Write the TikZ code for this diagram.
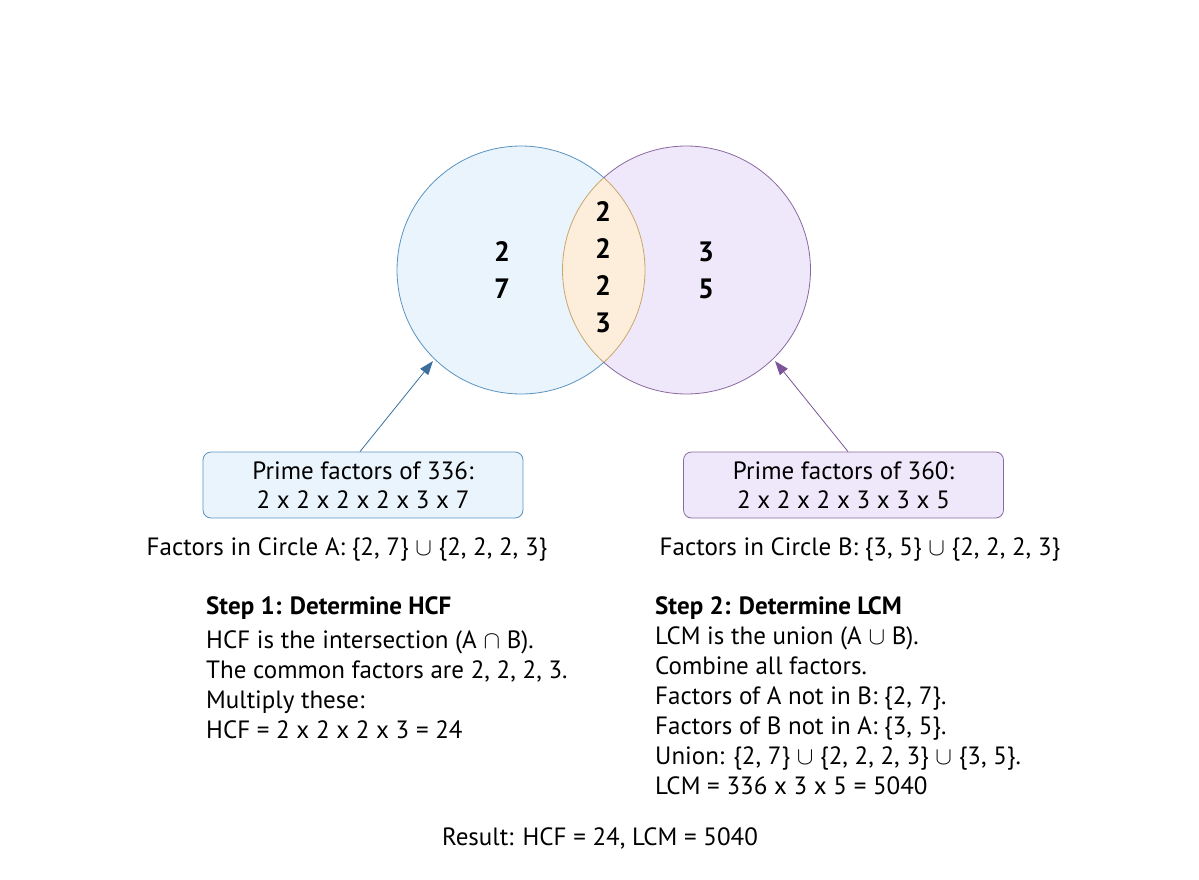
\documentclass[tikz,border=0pt]{standalone}
\usepackage{fontspec}
\setmainfont{PT Sans}
\usetikzlibrary{arrows.meta}
\begin{document}
\begin{tikzpicture}[x=1pt,y=-1pt,
  txt/.style={font=\fontsize{25}{30}\selectfont, inner sep=0pt},
  num/.style={font=\fontsize{28}{30}\selectfont\bfseries, inner sep=0pt},
  box/.style={draw=#1, rounded corners=8pt, line width=0.8pt, minimum width=320pt, minimum height=66pt, align=center, font=\fontsize{25}{29}\selectfont},
  arr/.style={-{Triangle[length=14pt,width=10pt]}, line width=0.8pt}]
\useasboundingbox (0,0) rectangle (1199,880);
\definecolor{ca}{HTML}{5A93C0}\definecolor{cb}{HTML}{8A6A9E}
\definecolor{fa}{HTML}{EAF4FD}\definecolor{fb}{HTML}{EEE8FA}
\definecolor{fl}{HTML}{FDEEDC}\definecolor{cl}{HTML}{C9A66B}
\definecolor{aa}{HTML}{3C6E9E}\definecolor{ab}{HTML}{7A559A}
\fill[fa] (521,270) circle (124);
\fill[fb] (686.5,270) circle (124);
\begin{scope}\clip (521,270) circle (124); \fill[fl] (686.5,270) circle (124);\end{scope}
\begin{scope}\clip (521,270) circle (124); \draw[cl, line width=0.8pt] (686.5,270) circle (124);\end{scope}
\begin{scope}\clip (686.5,270) circle (124); \draw[cl, line width=0.8pt] (521,270) circle (124);\end{scope}
\draw[ca, line width=0.8pt] (521,270) ++(48:124) arc (48:312:124);
\draw[cb, line width=0.8pt] (686.5,270) ++(-132:124) arc (-132:132:124);
\node[circle, minimum size=248pt, inner sep=0] (A) at (521,270) {};
\node[circle, minimum size=248pt, inner sep=0] (B) at (686.5,270) {};
\node[num] (a1) at (502,252) {2};
\node[num] (a2) at (502,289) {7};
\node[num] (m1) at (603,212) {2};
\node[num] (m2) at (603,249) {2};
\node[num] (m3) at (603,286) {2};
\node[num] (m4) at (603,323) {3};
\node[num] (b1) at (706,252) {3};
\node[num] (b2) at (706,289) {5};
\node[box=ca, fill=fa] (pa) at (363,485) {Prime factors of 336:\\2 x 2 x 2 x 2 x 3 x 7};
\node[box=cb, fill=fb] (pb) at (843.5,485) {Prime factors of 360:\\2 x 2 x 2 x 3 x 3 x 5};
\coordinate (ta) at (433,361);
\coordinate (tb) at (775,361);
\draw[arr, aa] (pa.north -| 360,0) -- (ta);
\draw[arr, ab] (pb.north -| 848,0) -- (tb);
\node[txt] (fA) at (347,549) {Factors in Circle A: \{2, 7\} $\cup$ \{2, 2, 2, 3\}};
\node[txt] (fB) at (860,549) {Factors in Circle B: \{3, 5\} $\cup$ \{2, 2, 2, 3\}};
\node[txt, anchor=north west, align=left] (s1) at (206,596) {\textbf{Step 1: Determine HCF}\\[4pt]HCF is the intersection (A $\cap$ B).\\The common factors are 2, 2, 2, 3.\\Multiply these:\\HCF = 2 x 2 x 2 x 3 = 24};
\node[txt, anchor=north west, align=left] (s2) at (655,596) {\textbf{Step 2: Determine LCM}\\LCM is the union (A $\cup$ B).\\Combine all factors.\\Factors of A not in B: \{2, 7\}.\\Factors of B not in A: \{3, 5\}.\\Union: \{2, 7\} $\cup$ \{2, 2, 2, 3\} $\cup$ \{3, 5\}.\\LCM = 336 x 3 x 5 = 5040};
\node[txt] (res) at (600,838) {Result: HCF = 24, LCM = 5040};
\end{tikzpicture}
\end{document}
